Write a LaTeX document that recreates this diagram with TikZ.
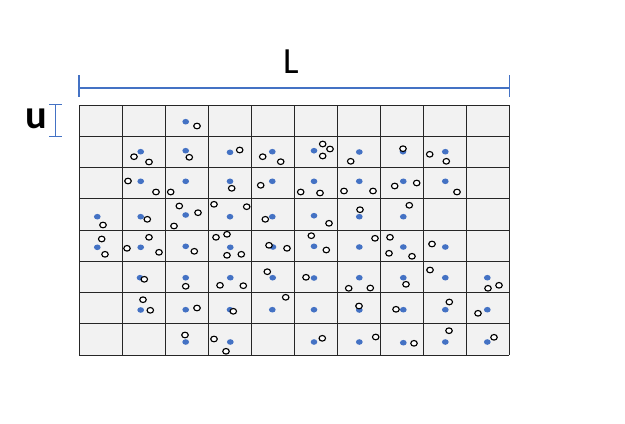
\documentclass[tikz,border=0pt]{standalone}
\usepackage{fontspec}
\newfontfamily\labelfont{Carlito}
\usetikzlibrary{positioning}

\definecolor{dimblue}{HTML}{4472C4}
\definecolor{cellgray}{HTML}{F2F2F2}

\tikzset{
  cellgrid/.style={draw=black!85, line width=0.55pt},
  dimline/.style={draw=dimblue, line width=0.6pt},
  bluedot/.style={fill=dimblue},
  opendot/.style={draw=black, fill=white, line width=0.65pt},
}

\begin{document}
\begin{tikzpicture}[x=0.02cm, y=-0.02cm]
\useasboundingbox (0,0) rectangle (625,423);
% cells
\fill[cellgray] (79,105) rectangle (509.3,355);
\foreach \i in {0,...,10} {
  \draw[cellgrid] ({79+43.03*\i},105) -- ({79+43.03*\i},355);
}
\foreach \j in {0,...,8} {
  \draw[cellgrid] (79,{105+31.25*\j}) -- (509.3,{105+31.25*\j});
}
% dimension L
\coordinate (Lleft) at (79,88);
\coordinate (Lright) at (509.3,88);
\draw[dimline] (Lleft) -- (Lright);
\draw[dimline] ([yshift=7.4pt]Lleft) -- ([yshift=-5.1pt]Lleft);
\draw[dimline] ([yshift=7.4pt]Lright) -- ([yshift=-5.1pt]Lright);
\node[font=\labelfont\fontsize{21}{21}\selectfont, inner sep=0pt] (lenL) at (291,62) {L};
% dimension u
\coordinate (utop) at (55.7,104.5);
\coordinate (ubot) at (55.7,136.3);
\draw[dimline] (utop) -- (ubot);
\draw[dimline] ([xshift=-3.6pt]utop) -- ([xshift=3.7pt]utop);
\draw[dimline] ([xshift=-3.6pt]ubot) -- ([xshift=3.7pt]ubot);
\node[font=\labelfont\bfseries\fontsize{23}{23}\selectfont, inner sep=0pt, anchor=base] (lenu) at (36.6,128.3) {u};
% blue dots
\foreach \x/\y in {185.7/121.7,
  140.7/151.7, 185.7/150.7, 230/152.3, 272.3/151.7, 314/150.7, 359.3/152, 403/151.7, 445.3/151.7,
  140.7/181.3, 185.7/181.3, 230/181.3, 272.3/181.3, 314/181.3, 359.3/181.3, 403.3/181.3, 445.3/181.3,
  97.3/216.7, 140.7/216.7, 185.7/215, 230/216.7, 272.3/216.7, 314/215.7, 359.3/216.7, 403.3/216.7,
  97.3/247.3, 140.7/247.3, 185.7/246.3, 230.3/247.3, 273/247, 314/246.3, 359.3/247, 403.3/247, 445.3/247,
  140/277.7, 185.7/277.7, 230.3/277.7, 272.7/277.7, 314/278, 359.3/277.7, 403.3/277.7, 445.3/277.7, 487.3/277.7,
  140.7/310, 185.7/309.7, 230/309.7, 272.3/309.7, 314/309.7, 359.3/310, 403.3/309.7, 445.3/309.7, 487.3/309.7,
  185.7/342, 230.3/342, 314/342, 359.3/342, 403.3/342.7, 445.3/342, 487.3/342} {
  \fill[bluedot] (\x,\y) ellipse [x radius=1.9pt, y radius=1.6pt];
}
% open circles
\foreach \x/\y in {197/126,
  134/156.7, 149/162, 189.3/157.3, 239.7/150, 262.7/156.7, 280.7/161.7, 322.7/144, 330/149, 322.7/156, 350.7/161.3, 403/148.7, 429.7/154.3, 446.3/161.3,
  128/181, 156/192, 170.7/192, 231.7/188.3, 260.7/185.3, 300.7/192, 320/193, 344/191, 373/191, 394.7/186, 416.7/183, 457/192,
  103/225, 147.3/219.3, 179.3/206, 198/212.7, 174/226, 214/204.3, 246.7/206.7, 265.3/219.3, 329/223.3, 360/209.7, 409.3/205.3,
  101.7/239, 105/254.3, 127/248.3, 149/237.3, 159/252.3, 194.3/251.3, 216/237.3, 227/234.3, 227/255.3, 241.3/254.3, 269/245.3, 287/248.3, 311.3/235.7, 326.3/250, 375/238.3, 390/237.3, 389/253.3, 412/256.3, 432/244,
  144.3/279.3, 185.7/286.3, 220/285.3, 243.3/285.7, 267.3/271.7, 306/277.3, 348.7/288.3, 370.3/288, 406/284.3, 430/270, 488/288.3, 499/285.3,
  143/299.7, 150.3/310.3, 197/308, 233.3/311.3, 285.7/297.3, 359/306, 396/309.3, 449.3/302, 478/313.3,
  185/335, 214/339, 226/351.3, 322.3/338.3, 375.7/337, 414/343.3, 449/330.7, 494/337.3} {
  \draw[opendot] (\x,\y) ellipse [x radius=1.85pt, y radius=1.6pt];
}
\end{tikzpicture}
\end{document}
